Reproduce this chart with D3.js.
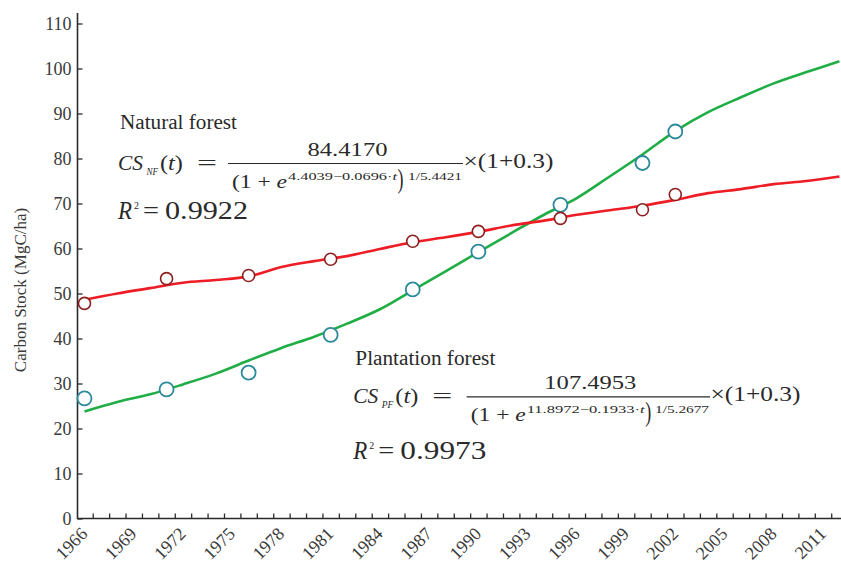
<!DOCTYPE html>
<html lang="en">
<head>
<meta charset="UTF-8">
<title>Carbon Stock</title>
<script src="https://d3js.org/d3.v7.min.js"></script>
<style>
  body { margin: 0; background: #fff; }
  svg { display: block; font-family: "Liberation Serif", "Times New Roman", serif; }
  .tick text { fill: #3a3a3a; }
</style>
</head>
<body>
<svg id="chart" width="841" height="563"></svg>
<script>
'use strict';

// observed sample years and values
const sampleYears = [1966, 1971, 1976, 1981, 1986, 1990, 1995, 2000, 2002];
const nfObserved = [47.8, 53.3, 54.0, 57.6, 61.6, 63.8, 66.7, 68.6, 72.0];
const pfObserved = [26.7, 28.7, 32.4, 40.8, 50.9, 59.3, 69.7, 79.0, 86.0];

// fitted curves
const fitYears = [1966, 1968, 1970, 1972, 1974, 1976, 1978, 1980, 1982, 1984, 1986, 1988,
                  1990, 1992, 1994, 1996, 1998, 2000, 2002, 2004, 2006, 2008, 2010, 2012];
const nfFit = [48.6, 50.0, 51.2, 52.4, 53.0, 53.8, 55.9, 57.2, 58.3, 59.9, 61.4, 62.5,
               63.7, 65.1, 66.2, 67.5, 68.5, 69.5, 70.8, 72.3, 73.2, 74.3, 75.0, 76.0];
const pfFit = [23.8, 25.9, 27.6, 29.8, 32.2, 35.1, 37.9, 40.4, 43.3, 46.5, 50.7, 54.9,
               59.2, 63.4, 67.5, 71.2, 76.0, 80.9, 86.1, 90.3, 93.6, 96.7, 99.2, 101.6];

const yTickValues = [0, 10, 20, 30, 40, 50, 60, 70, 80, 90, 100, 110];
const xLabelYears = [1966, 1969, 1972, 1975, 1978, 1981, 1984, 1987, 1990, 1993, 1996, 1999, 2002, 2005, 2008, 2011];

const svg = d3.select('#chart');
const x = d3.scaleLinear().domain([1966, 2011]).range([84.5, 823]);
const y = d3.scaleLinear().domain([0, 110]).range([518.5, 23.5]);
const axisColor = '#2b2b2b';
const serif = 'Liberation Serif';

// y axis
const gy = svg.append('g').attr('transform', 'translate(77.5,0)')
    .call(d3.axisLeft(y).tickValues(yTickValues).tickSizeInner(-5).tickSizeOuter(0).tickPadding(6));
gy.attr('font-family', serif).attr('font-size', 18);
gy.select('.domain').remove();
gy.selectAll('.tick line').attr('stroke', axisColor).attr('stroke-width', 1.3);
svg.append('line').attr('x1', 77.5).attr('x2', 77.5).attr('y1', 13).attr('y2', 519)
    .attr('stroke', axisColor).attr('stroke-width', 1.6);

// x axis: minor ticks between years, labels rotated
const minorTicks = d3.range(1966.5, 2012, 1);
const gx = svg.append('g').attr('transform', 'translate(0,518.5)')
    .call(d3.axisBottom(x).tickValues(minorTicks).tickSizeInner(-5).tickSizeOuter(0).tickFormat(''));
gx.select('.domain').remove();
gx.selectAll('.tick line').attr('stroke', axisColor).attr('stroke-width', 1.3);
svg.append('line').attr('x1', 77).attr('x2', 841).attr('y1', 518.5).attr('y2', 518.5)
    .attr('stroke', axisColor).attr('stroke-width', 1.6);

svg.append('g').attr('font-family', serif).selectAll('text').data(xLabelYears).enter().append('text')
    .attr('transform', d => `translate(${x(d) + 4},535) rotate(-45)`)
    .attr('text-anchor', 'end')
    .attr('font-size', 18)
    .attr('fill', '#3a3a3a')
    .text(d => d);

svg.append('text')
    .attr('transform', 'translate(25.5,290) rotate(-90)')
    .attr('text-anchor', 'middle')
    .attr('font-family', serif)
    .attr('font-size', 17)
    .attr('fill', '#3a3a3a')
    .text('Carbon Stock (MgC/ha)');

// fitted lines
const line = d3.line().x(d => x(d[0])).y(d => y(d[1])).curve(d3.curveCatmullRom);
svg.append('path').datum(fitYears.map((t, i) => [t, pfFit[i]]))
    .attr('d', line).attr('fill', 'none').attr('stroke', '#1fae45').attr('stroke-width', 2.6);
svg.append('path').datum(fitYears.map((t, i) => [t, nfFit[i]]))
    .attr('d', line).attr('fill', 'none').attr('stroke', '#ee1c24').attr('stroke-width', 2.6);

// observed points
svg.append('g').selectAll('circle').data(sampleYears).enter().append('circle')
    .attr('cx', d => x(d)).attr('cy', (d, i) => y(pfObserved[i])).attr('r', 7)
    .attr('fill', '#fff').attr('stroke', '#2c8a9a').attr('stroke-width', 1.8);
svg.append('g').selectAll('circle').data(sampleYears).enter().append('circle')
    .attr('cx', d => x(d)).attr('cy', (d, i) => y(nfObserved[i])).attr('r', 6)
    .attr('fill', '#fff').attr('stroke', '#8e1f1f').attr('stroke-width', 1.6);

// equations
function put(str, px, py, size, width, opts) {
    opts = opts || {};
    const t = svg.append('text')
        .attr('x', px).attr('y', py)
        .attr('font-family', serif)
        .attr('font-size', size)
        .attr('fill', '#2a2a2a')
        .attr('font-style', opts.italic ? 'italic' : null)
        .attr('text-anchor', opts.anchor || 'start');
    if (Array.isArray(str)) {
        str.forEach(s => t.append('tspan').attr('font-style', s.i ? 'italic' : 'normal').text(s.t));
    } else {
        t.text(str);
    }
    if (width) t.attr('textLength', width).attr('lengthAdjust', 'spacingAndGlyphs');
    return t;
}

function equation(o) {
    put(o.title, o.x0 + 2, o.yt, 20, o.titleW);
    put('CS', o.x0, o.yb, 22, 25, { italic: true });
    put(o.sub, o.x0 + 28.5, o.yb + 5, 10, 11.5, { italic: true });
    put([{ t: '(' }, { t: 't', i: true }, { t: ')' }], o.x0 + 42, o.yb, 22, 23);
    put('=', o.x0 + 79, o.yb, 22, 20);
    svg.append('line').attr('x1', o.bar0).attr('x2', o.bar1).attr('y1', o.yb - 6.5).attr('y2', o.yb - 6.5)
        .attr('stroke', '#2a2a2a').attr('stroke-width', 1.2);
    put(o.num, (o.bar0 + o.bar1) / 2 + 2, o.yb - 14, 19, o.numW, { anchor: 'middle' });
    put([{ t: '(1 + ' }, { t: 'e', i: true }], o.bar0 + 4, o.yb + 17.5, 19, 55);
    put([{ t: o.exp }, { t: 't', i: true }], o.bar0 + 60, o.yb + 10, 11, o.expW);
    put(')', o.bar0 + 60 + o.expW + 0.5, o.yb + 17.5, 28, 6);
    put(o.pow, o.bar1 - o.powW - 1, o.yb + 10, 11, o.powW);
    put('×(1+0.3)', o.bar1 + 0.5, o.yb - 2, 21, 90);
    put('R', o.x0, o.yr, 25, 14, { italic: true });
    put('2', o.x0 + 16, o.yr - 10, 11, 5);
    put('=', o.x0 + 25, o.yr, 25, 16);
    put(o.r2, o.x0 + 47, o.yr, 25, o.r2W);
}

equation({ title: 'Natural forest', titleW: 117, x0: 118, yt: 129.3, yb: 170, yr: 219,
    sub: 'NF', bar0: 228, bar1: 463, num: '84.4170', numW: 80,
    exp: '4.4039\u22120.0696\u00b7', expW: 109, pow: '1/5.4421', powW: 54, r2: '0.9922', r2W: 83 });

equation({ title: 'Plantation forest', titleW: 140, x0: 353.3, yt: 365, yb: 403.3, yr: 458.5,
    sub: 'PF', bar0: 466.7, bar1: 710, num: '107.4953', numW: 92,
    exp: '11.8972\u22120.1933\u00b7', expW: 118, pow: '1/5.2677', powW: 54, r2: '0.9973', r2W: 86 });
</script>
</body>
</html>
